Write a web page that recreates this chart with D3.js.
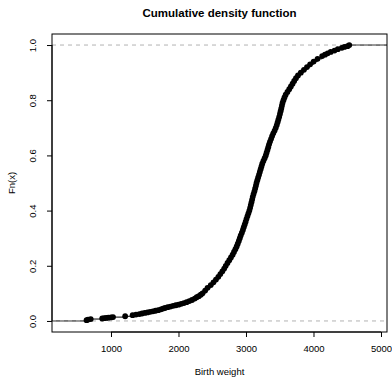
<!DOCTYPE html>
<html>
<head>
<meta charset="utf-8">
<script src="https://cdn.jsdelivr.net/npm/d3@7"></script>
<style>
  body { margin: 0; background: #fff; }
  text { font-family: "Liberation Sans", Arial, sans-serif; }
</style>
</head>
<body>
<div id="chart"></div>
<script>
// ECDF knots (birth weight, g) and cumulative proportion
const weights = [
  638, 660, 700, 870, 900, 930, 960, 1000, 1030, 1210, 1320, 1370, 1420, 1460,
  1500, 1540, 1580, 1620, 1660, 1700, 1740, 1770, 1800, 1840, 1880, 1920, 1960,
  2000, 2040, 2080, 2120, 2160, 2200, 2240, 2270, 2300, 2330,
  2356, 2395, 2430, 2478, 2518, 2555, 2590, 2620, 2650, 2677, 2700, 2726, 2752,
  2777, 2802, 2822, 2843, 2862, 2878, 2894, 2908, 2922, 2939, 2954, 2967, 2981,
  2995, 3008, 3022, 3036, 3050, 3061, 3071, 3081, 3091, 3100, 3112, 3125, 3136,
  3147, 3156, 3168, 3180, 3193, 3205, 3217, 3229, 3241, 3258, 3276, 3293, 3305,
  3318, 3330, 3342, 3356, 3372, 3387, 3404, 3424, 3441, 3456, 3468, 3480, 3492,
  3503, 3513, 3523, 3532, 3541, 3555, 3570, 3588, 3614, 3640, 3665, 3690, 3714,
  3740, 3770, 3812, 3858, 3903, 3950, 4002, 4060, 4128, 4170, 4210, 4255, 4311,
  4360, 4420, 4459, 4505, 4530
];
const cumProb = [
  0.003, 0.005, 0.007, 0.009, 0.010, 0.011, 0.012, 0.013, 0.014, 0.017, 0.021,
  0.023, 0.025, 0.027, 0.029, 0.031, 0.033, 0.035, 0.037, 0.039, 0.042, 0.045,
  0.047, 0.050, 0.052, 0.055, 0.057, 0.059, 0.062, 0.065, 0.068, 0.072, 0.076,
  0.081, 0.086, 0.090, 0.095,
  0.10, 0.11, 0.12, 0.13, 0.14, 0.15, 0.16, 0.17, 0.18, 0.19, 0.20, 0.21, 0.22,
  0.23, 0.24, 0.25, 0.26, 0.27, 0.28, 0.29, 0.30, 0.31, 0.32, 0.33, 0.34, 0.35,
  0.36, 0.37, 0.38, 0.39, 0.40, 0.41, 0.42, 0.43, 0.44, 0.45, 0.46, 0.47, 0.48,
  0.49, 0.50, 0.51, 0.52, 0.53, 0.54, 0.55, 0.56, 0.57, 0.58, 0.59, 0.60, 0.61,
  0.62, 0.63, 0.64, 0.65, 0.66, 0.67, 0.68, 0.69, 0.70, 0.71, 0.72, 0.73, 0.74,
  0.75, 0.76, 0.77, 0.78, 0.79, 0.80, 0.81, 0.82, 0.83, 0.84, 0.85, 0.86, 0.87,
  0.88, 0.89, 0.90, 0.91, 0.92, 0.93, 0.94, 0.95, 0.96, 0.965, 0.97, 0.975, 0.98,
  0.985, 0.99, 0.993, 0.996, 1.0
];
const xTicks = [1000, 2000, 3000, 4000, 5000];
const yTicks = [0, 0.2, 0.4, 0.6, 0.8, 1.0];
const xDomain = [126, 5089];
const yDomain = [-0.04, 1.04];

const width = 392, height = 378;
const margin = {top: 34, right: 5, bottom: 46, left: 52};

const x = d3.scaleLinear().domain(xDomain).range([margin.left, width - margin.right]);
const y = d3.scaleLinear().domain(yDomain).range([height - margin.bottom, margin.top]);

const svg = d3.select("#chart").append("svg")
  .attr("width", width)
  .attr("height", height);

const pts = weights.map((w, i) => [w, cumProb[i]]);

// step segments
const steps = [[xDomain[0], weights[0], 0]];
for (let i = 0; i < pts.length; i++) {
  const next = i < pts.length - 1 ? weights[i + 1] : xDomain[1];
  steps.push([weights[i], next, cumProb[i]]);
}
svg.append("g").selectAll("line").data(steps).join("line")
  .attr("x1", d => x(d[0]))
  .attr("x2", d => x(d[1]))
  .attr("y1", d => y(d[2]))
  .attr("y2", d => y(d[2]))
  .attr("stroke", "#000")
  .attr("stroke-width", 1);

// reference lines at 0 and 1
svg.append("g").selectAll("line").data([0, 1]).join("line")
  .attr("x1", x(xDomain[0]))
  .attr("x2", x(xDomain[1]))
  .attr("y1", d => y(d))
  .attr("y2", d => y(d))
  .attr("stroke", "#b3b3b3")
  .attr("stroke-dasharray", "4,4");

svg.append("g").selectAll("circle").data(pts).join("circle")
  .attr("cx", d => x(d[0]))
  .attr("cy", d => y(d[1]))
  .attr("r", 2.9)
  .attr("fill", "#000");

// box
svg.append("rect")
  .attr("x", margin.left)
  .attr("y", margin.top)
  .attr("width", width - margin.left - margin.right)
  .attr("height", height - margin.bottom - margin.top)
  .attr("fill", "none")
  .attr("stroke", "#000");

// axes
const xAxis = svg.append("g")
  .attr("transform", "translate(0," + (height - margin.bottom) + ")")
  .call(d3.axisBottom(x).tickValues(xTicks).tickSize(5).tickPadding(8).tickFormat(d3.format("d")));
xAxis.select(".domain").attr("d", "M" + x(xTicks[0]) + ",0H" + x(xTicks[xTicks.length - 1]));
xAxis.selectAll("text").attr("font-size", 9.5).attr("fill", "#000").attr("font-family", null);

const yAxis = svg.append("g")
  .attr("transform", "translate(" + margin.left + ",0)")
  .call(d3.axisLeft(y).tickValues(yTicks).tickSize(5).tickFormat(d3.format(".1f")));
yAxis.select(".domain").attr("d", "M0," + y(yTicks[0]) + "V" + y(yTicks[yTicks.length - 1]));
yAxis.selectAll("text")
  .attr("font-size", 9.5).attr("fill", "#000").attr("font-family", null)
  .attr("x", null).attr("dy", null)
  .attr("text-anchor", "middle")
  .attr("transform", "translate(-16,0) rotate(-90)");

svg.append("text")
  .attr("x", (margin.left + width - margin.right) / 2)
  .attr("y", 17)
  .attr("text-anchor", "middle")
  .attr("font-size", 11.5)
  .attr("font-weight", "bold")
  .text("Cumulative density function");

svg.append("text")
  .attr("x", (margin.left + width - margin.right) / 2)
  .attr("y", 375)
  .attr("text-anchor", "middle")
  .attr("font-size", 9.5)
  .text("Birth weight");

svg.append("text")
  .attr("transform", "translate(15," + ((margin.top + height - margin.bottom) / 2) + ") rotate(-90)")
  .attr("text-anchor", "middle")
  .attr("font-size", 9.5)
  .text("Fn(x)");
</script>
</body>
</html>
